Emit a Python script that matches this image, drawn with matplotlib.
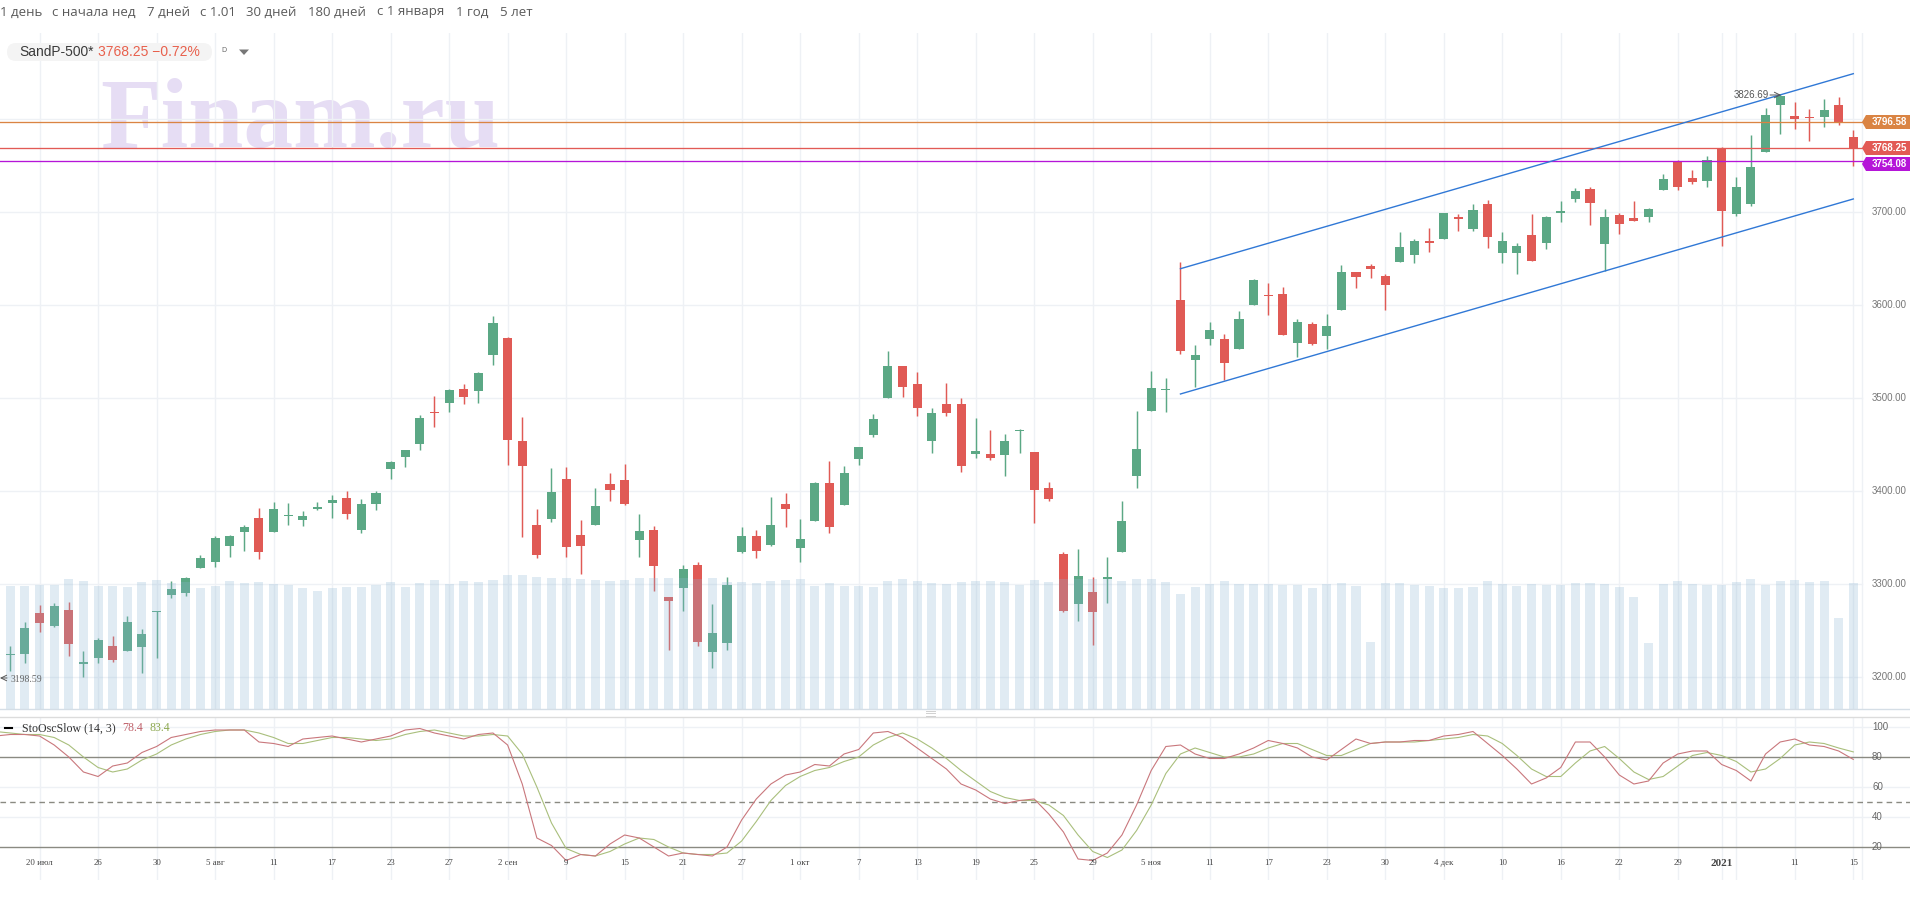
#!/usr/bin/env python
"""Finam style daily chart of SandP-500 with volume and slow stochastic panels."""

import numpy as np
import matplotlib
matplotlib.use('Agg')
import matplotlib.pyplot as plt
from matplotlib.patches import FancyBboxPatch, Polygon, Rectangle

W, H = 1910, 917

# Daily candles, first one is cut by the left edge of the chart
opens = [3209,
         3223.7, 3224.8, 3268.5, 3254.9, 3271.7, 3214, 3220.5, 3233, 3228, 3232.3,
         3269.9, 3288.2, 3290.4, 3317.2, 3323.7, 3340.9, 3355.9, 3370.6, 3355.9, 3373.1,
         3368.8, 3380.7, 3386.8, 3392.1, 3358.1, 3386, 3423.3, 3436.2, 3450.2, 3484.6,
         3494.3, 3509.3, 3507.2, 3545.9, 3564.2, 3453.4, 3363.1, 3369.6, 3412.6, 3352.4,
         3363.1, 3407.2, 3411.5, 3347, 3357.7, 3285.7, 3295.4, 3320.1, 3226.6, 3236.2,
         3334.1, 3351.3, 3341.6, 3385.7, 3338.4, 3367.4, 3408.3, 3384.6, 3434.1, 3459.9,
         3499.7, 3534.1, 3514.7, 3453.4, 3493.2, 3493.2, 3439.4, 3439.4, 3438.4, 3464.2,
         3441.6, 3402.9, 3331.9, 3278.5, 3291, 3305, 3334.1, 3415.8, 3485.7, 3508.3,
         3605, 3540.5, 3563.1, 3563.1, 3552.3, 3599.7, 3610.4, 3611.5, 3558.8, 3579.2,
         3566.3, 3594.3, 3635.1, 3641.6, 3630.8, 3645.9, 3653.4, 3668.5, 3670.6, 3694.3,
         3681.4, 3708.3, 3655.6, 3655.6, 3674.9, 3666.3, 3698.6, 3713.6, 3724.4, 3665.3,
         3696.4, 3693.2, 3694.3, 3723.3, 3754.1, 3736.2, 3733, 3768.5, 3697.5, 3708.3,
         3764.2, 3814.7, 3802.9, 3801.8, 3801.8, 3814.7, 3780.3]
closes = [3216,
          3224.4, 3252.4, 3258.1, 3276, 3235.5, 3215.8, 3239.5, 3218.3, 3258.8, 3245.9,
          3271, 3294.3, 3306.1, 3327.6, 3349.1, 3351.3, 3361, 3334.4, 3380.3, 3373.9,
          3372.8, 3382.5, 3390, 3375.3, 3385.7, 3397.5, 3430.9, 3443.8, 3478.2, 3483.5,
          3508.3, 3500.7, 3526.6, 3580.3, 3454.5, 3426.6, 3331, 3398.6, 3339.5, 3340.5,
          3383.5, 3400.7, 3385.7, 3356.7, 3319, 3281.4, 3315.8, 3237.3, 3247, 3298.6,
          3351.3, 3335.1, 3363.1, 3380.3, 3348, 3408.3, 3361, 3419, 3447, 3477.1,
          3534.1, 3511.5, 3488.9, 3483.5, 3483.5, 3426.5, 3442.7, 3435.1, 3453.4, 3465.2,
          3400.7, 3391.1, 3270.6, 3308.3, 3269.6, 3307.7, 3367.4, 3444.8, 3510.4, 3509.3,
          3550.2, 3545.9, 3572.8, 3537.3, 3584.6, 3626.5, 3609.3, 3567.4, 3581.4, 3557.7,
          3577.1, 3635.1, 3629.8, 3638.4, 3621.2, 3662, 3668.5, 3666.3, 3698.6, 3692.1,
          3701.8, 3672.8, 3668.5, 3663.1, 3647, 3694.3, 3700.7, 3722.2, 3709.3, 3694.3,
          3686.8, 3690, 3702.9, 3735.1, 3726.5, 3731.9, 3755.6, 3700.7, 3726.5, 3748.1,
          3804, 3824.4, 3799.7, 3800.7, 3809.3, 3796.1, 3768.25]
highs = [3222,
         3233, 3258.5, 3277.1, 3278.9, 3280.3, 3227.6, 3241.6, 3243.8, 3265.3, 3251.3,
         3271, 3302.9, 3307.2, 3330.9, 3351.3, 3352.4, 3363.1, 3381.4, 3387.8, 3386.8,
         3378.2, 3387.8, 3395.4, 3399.7, 3391, 3399.7, 3432, 3443.8, 3481.4, 3501.8,
         3509.3, 3514.7, 3527.6, 3587.8, 3565.3, 3479.2, 3380.3, 3424.4, 3425.5, 3368.5,
         3402.9, 3419, 3428.7, 3374.9, 3362, 3285.7, 3320.1, 3323.3, 3278.2, 3307.2,
         3361, 3357.7, 3393.2, 3397.5, 3369.6, 3409.3, 3431.9, 3426.5, 3447, 3482.5,
         3550.2, 3534.1, 3527.6, 3488.9, 3515.8, 3500, 3478, 3465.2, 3461, 3466.3,
         3441.6, 3409.3, 3334, 3337.3, 3307.2, 3328.7, 3388.9, 3485.7, 3528.7, 3521.2,
         3645.9, 3556.6, 3581.4, 3568.5, 3593.2, 3627.6, 3623.3, 3619, 3584.6, 3581.4,
         3590, 3642.7, 3635.1, 3643.7, 3633, 3678.2, 3670.6, 3682.5, 3698.6, 3697.5,
         3708.3, 3712.6, 3678.2, 3666.3, 3697.5, 3695.4, 3711.5, 3725.5, 3726.5, 3702.9,
         3698.6, 3711.5, 3704, 3740.5, 3755.6, 3744.8, 3759.9, 3769.6, 3737.3, 3782.5,
         3811.5, 3826.69, 3817.9, 3810.4, 3821.2, 3823.3, 3787.8]
lows = [3198.59,
        3206.5, 3215.1, 3248.4, 3253.4, 3222.6, 3200, 3215.1, 3216.2, 3228, 3204.3,
        3220.5, 3285, 3287.1, 3317.2, 3318.3, 3329, 3335.5, 3326.9, 3355.9, 3363.5,
        3362.4, 3379.6, 3371, 3369.9, 3354.9, 3379.6, 3412.6, 3425.5, 3443.8, 3468.5,
        3484.6, 3493.2, 3494.3, 3535.2, 3427.6, 3350.2, 3328, 3366.3, 3328.7, 3310.4,
        3363.1, 3388.9, 3384.6, 3328.7, 3292.1, 3228.7, 3270.6, 3233, 3209.4, 3228.7,
        3333, 3327.6, 3340.5, 3361, 3323.3, 3367.4, 3354.5, 3384.6, 3427.6, 3457.7,
        3499.7, 3500.7, 3480.3, 3440.5, 3480.3, 3420.1, 3435.1, 3433, 3415.8, 3440.5,
        3365.3, 3388.9, 3269.9, 3259.9, 3234.1, 3279.2, 3334, 3402.9, 3485.7, 3484.6,
        3547, 3511.5, 3556.6, 3519, 3552.3, 3599.7, 3588.9, 3567.4, 3543.7, 3556.6,
        3552.3, 3594.3, 3617.9, 3628.7, 3594.3, 3645.9, 3644.8, 3656.6, 3670.6, 3679.2,
        3679.2, 3661, 3644.8, 3633, 3647, 3659.9, 3688.9, 3710.4, 3685.7, 3636.2,
        3676, 3690, 3688.9, 3723.3, 3723.3, 3729.8, 3726.5, 3663.1, 3695.4, 3706.1,
        3764.2, 3783.5, 3788.9, 3776, 3791.1, 3793.2, 3749.1]

# Volume has no axis on the chart, so it is kept in relative units
volumes = [127,
           123, 123, 124, 124, 130, 128, 123, 123, 122, 127,
           129, 126, 127, 121, 123, 128, 126, 127, 125, 124,
           121, 118, 121, 122, 122, 124, 127, 122, 126, 129,
           125, 128, 127, 129, 134, 134, 132, 131, 131, 130,
           129, 128, 129, 131, 131, 131, 131, 130, 131, 127,
           127, 126, 128, 129, 130, 123, 126, 123, 123, 122,
           128, 130, 128, 126, 125, 127, 128, 128, 127, 124,
           129, 127, 130, 130, 130, 130, 128, 130, 130, 127,
           115, 122, 125, 128, 125, 125, 125, 124, 124, 121,
           125, 126, 123, 67, 126, 126, 124, 123, 121, 121,
           122, 128, 125, 123, 125, 124, 124, 126, 126, 125,
           122, 112, 66, 125, 128, 125, 124, 124, 127, 130,
           124, 128, 129, 127, 128, 91, 126]

stoch_k = [94,
           95, 95, 94, 88, 80, 70, 67, 74, 76, 83,
           87, 93, 95, 97, 98, 98, 98, 90, 89, 87,
           92, 93, 94, 92, 90, 92, 94, 98, 99, 96,
           94, 92, 95, 96, 88, 62, 26, 21, 11, 15,
           14, 22, 28, 26, 20, 14, 16, 15, 14, 20,
           38, 52, 62, 68, 70, 75, 74, 82, 85, 96,
           97, 93, 86, 79, 72, 62, 58, 52, 49, 51,
           52, 42, 30, 12, 11, 16, 28, 48, 71, 87,
           88, 82, 79, 79, 82, 86, 91, 89, 86, 80,
           78, 85, 92, 89, 90, 90, 91, 91, 94, 95,
           97, 89, 81, 72, 62, 66, 73, 90, 90, 80,
           68, 62, 64, 76, 82, 84, 84, 75, 71, 64,
           82, 90, 92, 88, 87, 84, 78.4]
stoch_d = [97,
           96, 95, 95, 93, 88, 80, 73, 70, 72, 78,
           82, 88, 92, 95, 97, 98, 98, 96, 93, 89,
           89, 91, 93, 93, 92, 91, 92, 95, 97, 98,
           96, 94, 94, 95, 94, 82, 60, 36, 19, 15,
           14, 17, 22, 26, 25, 20, 16, 15, 15, 16,
           24, 37, 51, 61, 67, 71, 73, 77, 80, 88,
           93, 96, 92, 86, 79, 71, 64, 57, 53, 51,
           51, 48, 41, 28, 17, 13, 18, 31, 48, 69,
           82, 86, 83, 80, 80, 82, 86, 89, 89, 85,
           81, 81, 85, 89, 90, 90, 90, 91, 92, 93,
           95, 94, 89, 81, 72, 67, 67, 76, 84, 87,
           79, 70, 65, 67, 74, 81, 83, 81, 77, 70,
           72, 79, 88, 90, 89, 86, 83.4]

# Candle numbers that carry a date label
tick_pos = [2, 6, 10, 14, 18, 22, 26, 30, 34, 38, 42, 46, 50, 54, 58, 62, 66, 70, 74,
            78, 82, 86, 90, 94, 98, 102, 106, 110, 114, 117, 122, 126]
tick_labels = ['20 июл', '26', '30', '5 авг', '11', '17', '23', '27', '2 сен', '9', '15',
               '21', '27', '1 окт', '7', '13', '19', '25', '29', '5 ноя', '11', '17', '23',
               '30', '4 дек', '10', '16', '22', '29', '2021', '11', '15']
unlabeled_grid = [118]

price_ticks = [3200, 3300, 3400, 3500, 3600, 3700]
price_gridonly = [3800]
stoch_ticks = [100, 80, 60, 40, 20]

level_values = [3796.58, 3768.25, 3754.08]
level_colors = ['#da8443', '#e25a55', '#b515d8']
tag_centers = [122, 148, 164]

# Trend channel, start and end candle with their prices
channel_x = [80, 126]
channel_top = [3638.7, 3848.4]
channel_bottom = [3504, 3713.7]

period_buttons = ['1 день', 'с начала нед', '7 дней', 'с 1.01', '30 дней', '180 дней',
                  'с 1 января', '1 год', '5 лет']
period_x = [0, 52, 147, 200, 246, 308, 377, 456, 500]

GREEN = '#5ba885'
RED = '#e05a55'
GRID = '#eef1f5'


def fx(px):
    return px / W


def fy(py):
    return 1 - py / H


# Pixel mapping of the candle axis: x = 10.3 + 14.627 * candle
x_left = (0 - 10.3) / 14.627
x_right = (W - 10.3) / 14.627

fig = plt.figure(figsize=(W / 100, H / 100), dpi=100, facecolor='white')

ax = fig.add_axes([0, fy(709), 1, (709 - 33) / H])
ax.set_xlim(x_left, x_right)
ax.set_ylim(3200 + (676.7 - 709) / 0.93, 3200 + (676.7 - 33) / 0.93)
ax.axis('off')

# Watermark under everything
ax.text(fx(100), fy(146.5), 'Finam.ru', transform=fig.transFigure, fontsize=71.5,
        family='Liberation Serif', fontweight='bold', color='#e6ddf4', va='baseline', zorder=0)

# Grid
for t in tick_pos + unlabeled_grid:
    ax.axvline(t, color=GRID, lw=1.0, zorder=1)
for p in price_ticks + price_gridonly:
    ax.plot([x_left, (1862 - 10.3) / 14.627], [p, p], color=GRID, lw=1.0, zorder=1)
ax.axvline((1861.7 - 10.3) / 14.627, color=GRID, lw=1.0, zorder=1)

# Candles
idx = np.arange(-1, len(opens) - 1)
for i, o, h, l, c in zip(idx, opens, highs, lows, closes):
    col = GREEN if c >= o else RED
    ax.plot([i, i], [l, h], color=col, lw=1.05, solid_capstyle='butt', zorder=3)
    ax.add_patch(Rectangle((i - 0.31, min(o, c)), 0.62, max(abs(c - o), 1.0),
                           facecolor=col, edgecolor='none', zorder=3))

# Levels and channel
for val, col in zip(level_values, level_colors):
    ax.axhline(val, color=col, lw=0.95, zorder=4)
ax.plot(channel_x, channel_top, color='#3078d6', lw=1.0, zorder=4)
ax.plot(channel_x, channel_bottom, color='#3078d6', lw=1.0, zorder=4)

# Volume sits over the candles and is see-through
ax_vol = fig.add_axes([0, fy(709), 1, (709 - 33) / H], zorder=2)
ax_vol.patch.set_alpha(0)
ax_vol.set_xlim(x_left, x_right)
ax_vol.set_ylim(0, 709 - 33)
ax_vol.axis('off')
ax_vol.bar(idx, volumes, width=0.62, color='#8eb6d4', alpha=0.27, linewidth=0)

# Stochastic panel
ax_st = fig.add_axes([0, fy(880), 1, (880 - 717) / H], zorder=1)
ax_st.set_xlim(x_left, x_right)
ax_st.set_ylim(100 - (880 - 727) / 1.5, 100 + (727 - 717) / 1.5)
ax_st.axis('off')
for t in tick_pos + unlabeled_grid:
    ax_st.axvline(t, color=GRID, lw=1.0, zorder=1)
ax_st.axvline((1861.7 - 10.3) / 14.627, color=GRID, lw=1.0, zorder=1)
for v in [100, 60, 40]:
    ax_st.axhline(v, color=GRID, lw=1.0, zorder=1)
ax_st.axhline(80, color='#8a8a82', lw=1.0, zorder=2)
ax_st.axhline(20, color='#8a8a82', lw=1.0, zorder=2)
ax_st.axhline(50, color='#8a8a82', lw=1.0, ls=(0, (4, 3)), zorder=2)
ax_st.plot(idx, stoch_d, color='#a9bf7c', lw=0.8, zorder=3)
ax_st.plot(idx, stoch_k, color='#c9777c', lw=0.8, zorder=4)

# Overlay for the chrome, in figure pixels
ax_top = fig.add_axes([0, 0, 1, 1], zorder=5)
ax_top.set_xlim(0, W)
ax_top.set_ylim(H, 0)
ax_top.axis('off')
ax_top.patch.set_alpha(0)

ax_top.plot([0, W], [709, 709], color='#d5dee6', lw=1.0)
ax_top.plot([0, W], [717, 717], color='#dcdcdc', lw=1.0)
for y in [710.7, 713.2, 715.7]:
    ax_top.plot([926, 935], [y, y], color='#d0d0d0', lw=0.7)

sans = 'Liberation Sans'
serif = 'Liberation Serif'

for txt, x0 in zip(period_buttons, period_x):
    ax_top.text(x0, 12, txt, fontsize=9.5, family='Open Sans', color='#5a5a5a', va='center', ha='left')

ax_top.add_patch(FancyBboxPatch((7, 43), 205, 18, boxstyle='round,pad=0,rounding_size=9',
                                facecolor='#f4f4f4', edgecolor='none'))
ax_top.text(19, 52, 'SandP-500*', fontsize=9.9, family=sans, color='#3a3a3a', va='center')
ax_top.text(98, 52, '3768.25 −0.72%', fontsize=10, family=sans, color='#e8604c', va='center')
ax_top.text(221, 51, 'D', fontsize=5, family=sans, color='#666666', va='center')
ax_top.add_patch(Polygon([[239, 49.5], [249, 49.5], [244, 55]], closed=True, facecolor='#777777', edgecolor='none'))

# Right price scale and level tags
for p in price_ticks:
    y_p = 676.7 - (p - 3200) * 0.93
    ax_top.text(1872, y_p, f'{p:.2f}', fontsize=7.0, family=sans, color='#777777', va='center')
for val, col, yc in zip(level_values, level_colors, tag_centers):
    ax_top.add_patch(Polygon([[1862, yc], [1866, yc - 7], [1910, yc - 7], [1910, yc + 7], [1866, yc + 7]],
                             closed=True, facecolor=col, edgecolor='none'))
    ax_top.text(1872, yc, f'{val:.2f}', fontsize=7.0, family=sans, color='white', fontweight='bold', va='center')

# High and low markers
ax_top.text(11, 679, '3198.59', fontsize=7.0, family=serif, color='#666666', va='center')
ax_top.annotate('', xy=(0, 678), xytext=(7, 678), arrowprops=dict(arrowstyle='->', color='#555555', lw=0.7, shrinkA=0, shrinkB=0))
ax_top.text(1734, 95, '3826.69', fontsize=7.0, family=sans, color='#555555', va='center')
ax_top.annotate('', xy=(1781, 95), xytext=(1770, 95), arrowprops=dict(arrowstyle='->', color='#555555', lw=0.7, shrinkA=0, shrinkB=0))

# Stochastic legend and scale
ax_top.plot([5, 12], [728, 728], color='black', lw=1.5)
ax_top.text(22, 728, 'StoOscSlow (14, 3)', fontsize=8.6, family=serif, color='#333333', va='center')
ax_top.text(122, 728, f'{stoch_k[-1]}', fontsize=8.6, family=serif, color='#c0616a', va='center')
ax_top.text(149, 728, f'{stoch_d[-1]}', fontsize=8.6, family=serif, color='#8ca84f', va='center')
for v in stoch_ticks:
    ax_top.text(1872, 727 + (100 - v) * 1.5, str(v), fontsize=7.0, family=sans, color='#666666', va='center')

# Date labels overlap the lower part of the stochastic panel
for t, lab in zip(tick_pos, tick_labels):
    bold = lab == '2021'
    ax_top.text(10.3 + 14.627 * t, 863, lab, fontsize=8 if bold else 6.3, family=serif,
                color='#444444', ha='center', va='center', fontweight='bold' if bold else 'normal')

fig.savefig('out.png', dpi=100, facecolor='white')
plt.close(fig)
